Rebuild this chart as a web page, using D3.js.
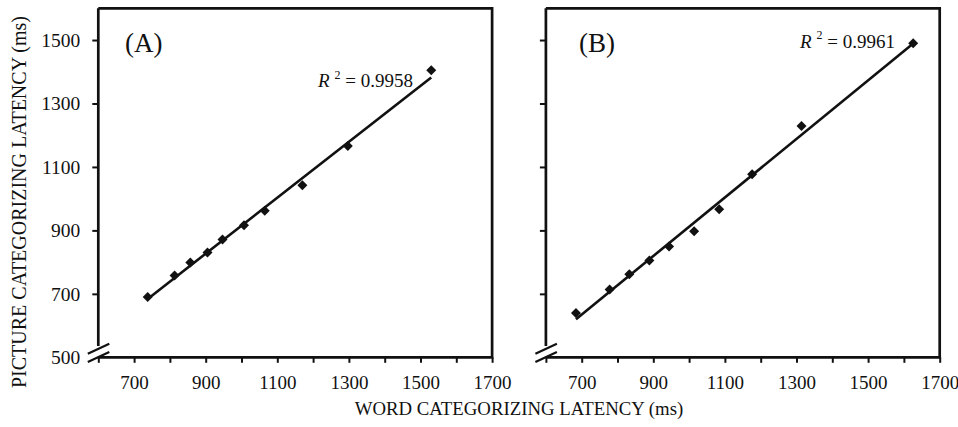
<!DOCTYPE html>
<html>
<head>
<meta charset="utf-8">
<script src="https://cdn.jsdelivr.net/npm/d3@7"></script>
<style>
  html, body { margin: 0; padding: 0; background: #fff; }
  svg { display: block; }
  text { font-family: "Liberation Serif", "Times New Roman", serif; fill: #111; }
</style>
</head>
<body>
<svg id="chart" width="958" height="427"></svg>
<script>
// Word vs. picture categorizing latencies (ms), one scatter panel per condition
const panelLabels = ["(A)", "(B)"];
const r2Labels = ["0.9958", "0.9961"];

const wordA    = [738, 813, 857, 905, 947, 1007, 1065, 1170, 1297, 1530];
const pictureA = [690, 758, 799, 830, 871, 916, 962, 1042, 1166, 1405];

const wordB    = [684, 778, 833, 889, 944, 1014, 1084, 1176, 1314, 1626];
const pictureB = [640, 714, 762, 805, 849, 897, 967, 1077, 1229, 1490];

const xTicks = [600, 700, 800, 900, 1000, 1100, 1200, 1300, 1400, 1500, 1600, 1700];
const xTickLabels = [700, 900, 1100, 1300, 1500, 1700];
const yTicks = [700, 900, 1100, 1300, 1500];
const yTickLabels = [500, 700, 900, 1100, 1300, 1500];

const xTitle = "WORD CATEGORIZING LATENCY (ms)";
const yTitle = "PICTURE CATEGORIZING LATENCY (ms)";

const svg = d3.select("#chart");
const plotTop = 8.3, plotBottom = 357.3, plotW = 393.8;
const panels = [
  { left: 98.3, xs: wordA, ys: pictureA, label: panelLabels[0], r2: r2Labels[0], showY: true,
    labelX: 125, r2Anchor: [413, 87] },
  { left: 545.9, xs: wordB, ys: pictureB, label: panelLabels[1], r2: r2Labels[1], showY: false,
    labelX: 579, r2Anchor: [895, 47.5] }
];

// least-squares fit used for the trend line
function fit(xs, ys) {
  const mx = d3.mean(xs), my = d3.mean(ys);
  let sxy = 0, sxx = 0;
  xs.forEach((x, i) => { sxy += (x - mx) * (ys[i] - my); sxx += (x - mx) * (x - mx); });
  const b = sxy / sxx;
  return { b, a: my - b * mx };
}

const diamond = "M0,-5L5,0L0,5L-5,0Z";

panels.forEach(p => {
  const x = d3.scaleLinear().domain([600, 1700]).range([p.left, p.left + plotW]);
  const y = d3.scaleLinear().domain([500, 1600]).range([plotBottom, plotTop]);
  const g = svg.append("g");

  // x axis ticks and labels
  const xa = g.append("g").attr("transform", `translate(0,${plotBottom})`)
    .call(d3.axisBottom(x).tickValues(xTicks).tickSize(5.5).tickPadding(12.5)
      .tickFormat(d => xTickLabels.includes(d) ? d : ""));
  xa.select(".domain").remove();
  xa.selectAll("line").attr("stroke", "#111").attr("stroke-width", 2);
  xa.selectAll("text").attr("font-size", 19).attr("font-family", "Liberation Serif").attr("fill", "#111");

  // y axis ticks and labels
  const ya = g.append("g").attr("transform", `translate(${p.left},0)`)
    .call(d3.axisLeft(y).tickValues(yTickLabels).tickSize(6).tickPadding(12)
      .tickFormat(d => p.showY ? d : ""));
  ya.select(".domain").remove();
  ya.selectAll(".tick").filter(d => !yTicks.includes(d)).select("line").remove();
  ya.selectAll("line").attr("stroke", "#111").attr("stroke-width", 2);
  ya.selectAll("text").attr("font-size", 19.5).attr("font-family", "Liberation Serif").attr("fill", "#111");

  // frame: top, right, bottom, and the broken left side
  const frame = g.append("g").attr("stroke", "#111").attr("stroke-width", 2.7).attr("fill", "none");
  frame.append("path").attr("d",
    `M${x(600)},${y(1600)}H${x(1700)}V${y(500)}H${x(600)}`);
  frame.append("path").attr("d", `M${x(600)},${y(1600)}V${y(536)}`);
  // axis break marks
  [y(527), y(501)].forEach(cy => {
    frame.append("line")
      .attr("x1", x(600) - 10.5).attr("y1", cy + 5)
      .attr("x2", x(600) + 11).attr("y2", cy - 5)
      .attr("stroke-width", 2.2);
  });

  // regression line
  const f = fit(p.xs, p.ys);
  const x0 = d3.min(p.xs), x1 = d3.max(p.xs);
  g.append("line")
    .attr("x1", x(x0)).attr("y1", y(f.a + f.b * x0))
    .attr("x2", x(x1)).attr("y2", y(f.a + f.b * x1))
    .attr("stroke", "#111").attr("stroke-width", 2.6);

  // data points
  g.selectAll(".pt").data(p.xs.map((v, i) => [v, p.ys[i]])).join("path")
    .attr("class", "pt")
    .attr("d", diamond)
    .attr("transform", d => `translate(${x(d[0])},${y(d[1])})`)
    .attr("fill", "#111");

  // panel tag
  g.append("text").attr("x", p.labelX).attr("y", 52)
    .attr("font-size", 27).text(p.label);

  // R² annotation
  const t = g.append("text").attr("x", p.r2Anchor[0]).attr("y", p.r2Anchor[1])
    .attr("text-anchor", "end").attr("font-size", 19);
  t.append("tspan").attr("font-style", "italic").text("R");
  t.append("tspan").attr("font-size", 12).attr("dx", 5).attr("dy", -8.5).text("2");
  t.append("tspan").attr("dy", 8.5).text(" = " + p.r2);
});

// shared axis titles
svg.append("text").attr("x", 519).attr("y", 415)
  .attr("text-anchor", "middle").attr("font-size", 18.8).text(xTitle);
svg.append("text")
  .attr("transform", "translate(26,202) rotate(-90)")
  .attr("text-anchor", "middle").attr("font-size", 20).text(yTitle);
</script>
</body>
</html>
